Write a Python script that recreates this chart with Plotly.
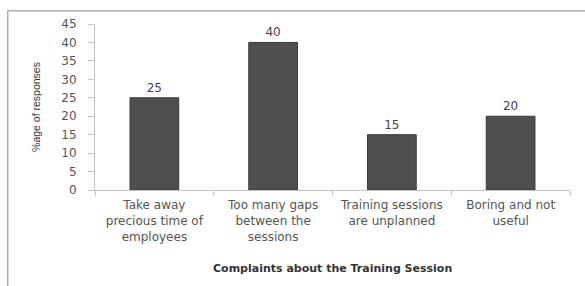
import plotly.graph_objects as go

categories = ["Take away<br>precious time of<br>employees",
              "Too many gaps<br>between the<br>sessions",
              "Training sessions<br>are unplanned",
              "Boring and not<br>useful"]
values = [25, 40, 15, 20]
y_ticks = [0, 5, 10, 15, 20, 25, 30, 35, 40, 45]

FONT = "DejaVu Sans"

fig = go.Figure(go.Bar(
    x=categories, y=values,
    marker=dict(color="#4f4f4f", line=dict(color="#3a3a3a", width=1)),
    text=[str(v) for v in values], textposition="outside",
    textfont=dict(family=FONT, size=12, color="#444"),
    cliponaxis=False,
))

fig.update_layout(
    width=585, height=286,
    margin=dict(l=95, r=15, t=24, b=96, autoexpand=False),
    paper_bgcolor="white", plot_bgcolor="white",
    bargap=0.59,
    showlegend=False,
    font=dict(family=FONT, size=12, color="#555"),
    xaxis=dict(
        automargin=False,
        showline=True, linecolor="#c4c4c4", linewidth=1,
        ticks="outside", tickson="boundaries", ticklen=5, tickcolor="#c4c4c4",
        ticklabelstandoff=4,
        tickfont=dict(family=FONT, size=12, color="#555"),
    ),
    yaxis=dict(
        automargin=False,
        range=[0, 45], tickvals=y_ticks, showgrid=False, zeroline=False,
        showline=True, linecolor="#c4c4c4", linewidth=1,
        ticks="outside", ticklen=6, tickcolor="#c4c4c4",
        ticklabelstandoff=9,
        tickfont=dict(family=FONT, size=12, color="#555"),
        title=dict(text="%age of responses",
                   font=dict(size=10.5, color="#333", family="Liberation Sans Narrow, Liberation Sans"),
                   standoff=18),
    ),
)

fig.add_annotation(text="<b>Complaints about the Training Session</b>",
                   xref="paper", yref="paper", x=0.5, y=(190 - 268) / 166,
                   yanchor="middle", showarrow=False,
                   font=dict(family=FONT, size=11, color="#333"))

# chart frame (top and left edges visible; right/bottom fall outside the canvas)
frame_left = (7 - 95) / 475
frame_top = 1 + (24 - 10) / 166
fig.add_annotation(text=" ", xref="paper", yref="paper",
                   x=frame_left, y=frame_top, xanchor="left", yanchor="top",
                   width=640, height=330, showarrow=False,
                   bordercolor="#b0b0b0", borderwidth=1.5, borderpad=0,
                   bgcolor="rgba(0,0,0,0)")

fig.write_html("out.html", config={"displayModeBar": False})

with open("out.html", "r", encoding="utf-8") as f:
    html = f.read()
html = html.replace("<head>", "<head><style>html,body{margin:0;padding:0;overflow:hidden;}</style>", 1)
with open("out.html", "w", encoding="utf-8") as f:
    f.write(html)
